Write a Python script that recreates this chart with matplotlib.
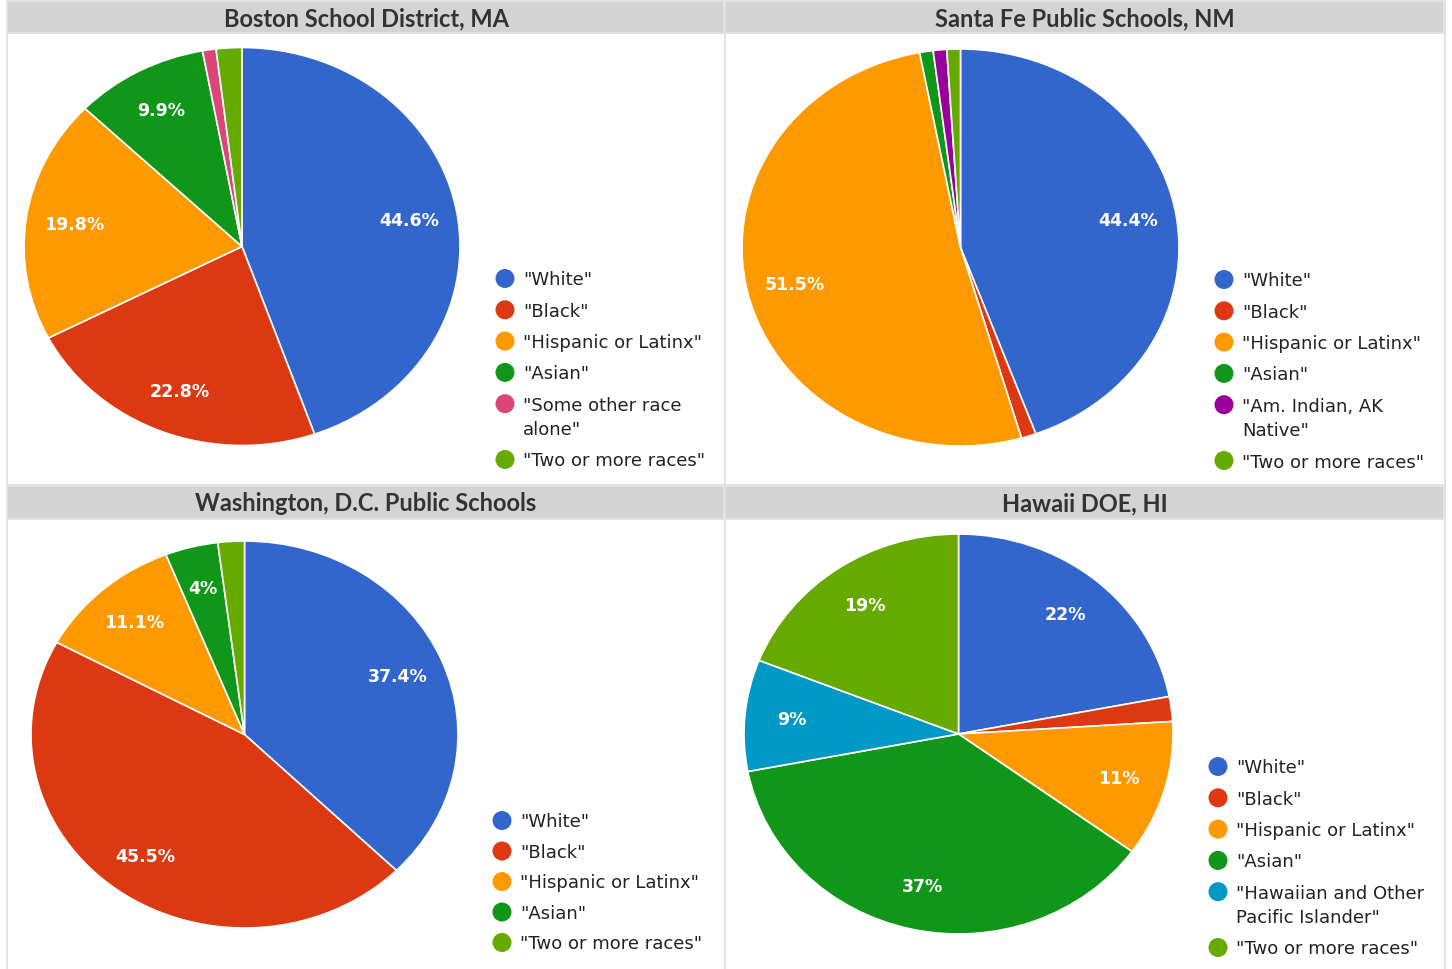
import matplotlib
matplotlib.use("Agg")
import matplotlib.pyplot as plt
from matplotlib.patches import Rectangle, Circle
import numpy as np

# ---------------- data ----------------
boston_title = "Boston School District, MA"
boston_labels = ['"White"', '"Black"', '"Hispanic or Latinx"', '"Asian"',
                 '"Some other race\nalone"', '"Two or more races"']
boston_values = [44.6, 22.8, 19.8, 9.9, 1.0, 1.9]

santafe_title = "Santa Fe Public Schools, NM"
santafe_labels = ['"White"', '"Black"', '"Hispanic or Latinx"', '"Asian"',
                  '"Am. Indian, AK\nNative"', '"Two or more races"']
santafe_values = [44.4, 1.1, 51.5, 1.0, 1.0, 1.0]

dc_title = "Washington, D.C. Public Schools"
dc_labels = ['"White"', '"Black"', '"Hispanic or Latinx"', '"Asian"',
             '"Two or more races"']
dc_values = [37.4, 45.5, 11.1, 4.0, 2.0]

hawaii_title = "Hawaii DOE, HI"
hawaii_labels = ['"White"', '"Black"', '"Hispanic or Latinx"', '"Asian"',
                 '"Hawaiian and Other\nPacific Islander"', '"Two or more races"']
hawaii_values = [22, 2, 11, 37, 9, 19]

color_map = {
    "White": "#3366cc", "Black": "#dc3912", "Hispanic or Latinx": "#ff9900",
    "Asian": "#109618", "Some other race alone": "#dd4477",
    "Am. Indian, AK Native": "#990099",
    "Hawaiian and Other Pacific Islander": "#0099c6",
    "Two or more races": "#66aa00",
}

def col(lbl):
    return color_map[lbl.replace('"', '').replace('\n', ' ')]

W, H = 1452, 970
fig = plt.figure(figsize=(W / 100, H / 100), dpi=100)
fig.patch.set_facecolor("white")

bg = fig.add_axes([0, 0, 1, 1])
bg.set_xlim(0, W)
bg.set_ylim(H, 0)
bg.axis("off")

border = "#e2e2e2"
fill = "#d3d3d3"
# title bars
for y0, y1 in [(0, 35), (485, 521)]:
    bg.add_patch(Rectangle((6, y0), 1440, y1 - y0, color=border, lw=0))
    bg.add_patch(Rectangle((8, y0 + 2.5), 715, y1 - y0 - 5, color=fill, lw=0))
    bg.add_patch(Rectangle((726, y0 + 2.5), 717, y1 - y0 - 5, color=fill, lw=0))
# vertical lines
for x0, w in [(6, 2), (723.5, 2.5), (1443.5, 2.5)]:
    bg.add_patch(Rectangle((x0, 0), w, H, color=border, lw=0))

panels = [
    dict(title=boston_title, labels=boston_labels, values=boston_values,
         tx=366, ty=19, cx=242, cy=247.5, rx=218, ry=199,
         lx=505, ly=280.5, pitch=31.3),
    dict(title=santafe_title, labels=santafe_labels, values=santafe_values,
         tx=1085, ty=19, cx=960.5, cy=248.5, rx=218.5, ry=198.5,
         lx=1224, ly=281.5, pitch=31.3),
    dict(title=dc_title, labels=dc_labels, values=dc_values,
         tx=366, ty=503.5, cx=244.5, cy=735.5, rx=213.5, ry=193.5,
         lx=502, ly=822.5, pitch=30.5),
    dict(title=hawaii_title, labels=hawaii_labels, values=hawaii_values,
         tx=1085, ty=503.5, cx=958.5, cy=735, rx=214.5, ry=200,
         lx=1218, ly=768.5, pitch=31.3),
]

for p in panels:
    bg.text(p["tx"], p["ty"], p["title"], ha="center", va="center",
            fontsize=17, fontweight="bold", family=["Lato", "DejaVu Sans"],
            color="#333333")

    left = (p["cx"] - p["rx"]) / W
    bottom = (H - (p["cy"] + p["ry"])) / H
    ax = fig.add_axes([left, bottom, 2 * p["rx"] / W, 2 * p["ry"] / H])
    colors = [col(l) for l in p["labels"]]
    wedges, _ = ax.pie(p["values"], colors=colors, startangle=90,
                       counterclock=False, radius=1,
                       wedgeprops=dict(edgecolor="white", linewidth=1.2))
    ax.set_aspect("auto")
    ax.set_xlim(-1, 1)
    ax.set_ylim(-1, 1)
    ax.axis("off")
    for w, v in zip(wedges, p["values"]):
        if v < 3:
            continue
        mid = np.deg2rad((w.theta1 + w.theta2) / 2)
        r = 0.78
        ax.text(r * np.cos(mid), r * np.sin(mid), f"{v:g}%", ha="center",
                va="center", color="white", fontsize=12.5,
                family="DejaVu Sans", fontweight="bold")

    # legend
    y = p["ly"]
    for lbl, c in zip(p["labels"], colors):
        bg.add_patch(Circle((p["lx"], y - 1), 9.5, color=c, lw=0))
        for k, line in enumerate(lbl.split("\n")):
            bg.text(p["lx"] + 18, y + k * 24.5, line, ha="left", va="center",
                    fontsize=13, family="DejaVu Sans", color="#222222")
        y += p["pitch"] + 24.5 * (lbl.count("\n"))

fig.savefig("out.png", dpi=100, facecolor="white")
